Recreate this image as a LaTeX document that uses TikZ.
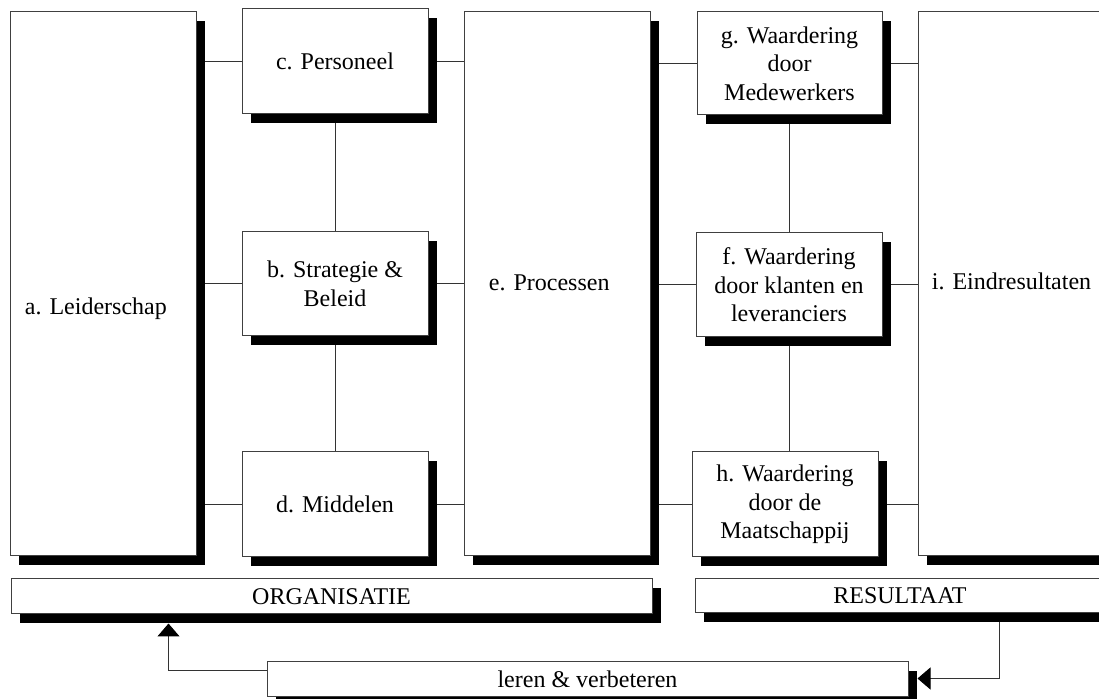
\documentclass[tikz,border=0pt]{standalone}
\usepackage{fontspec}
\setmainfont{Liberation Serif}
\usetikzlibrary{calc,shadows,backgrounds,arrows.meta}
\tikzset{
  box/.style={draw=black!75, line width=0.5pt, fill=white, inner sep=0pt, align=center,
    font=\fontsize{12pt}{14.3pt}\selectfont,
    drop shadow={shadow xshift=4.3pt, shadow yshift=-4.3pt, opacity=1, fill=black}},
  lbl/.style={font=\fontsize{12pt}{14.3pt}\selectfont, inner sep=0pt, anchor=base west},
  conn/.style={draw=black!80, line width=0.5pt},
  tip/.style={-{Triangle[width=11pt,length=6.5pt,black]}}
}
\begin{document}
\begin{tikzpicture}[x=0.5pt,y=-0.5pt]
\useasboundingbox (0,0) rectangle (1099,699);
\clip (0,0) rectangle (1099,699);
% boxes
\node[box, minimum width=93pt, minimum height=272pt] (a) at (103,284) {};
\node[box, minimum width=93pt, minimum height=52.5pt] (c) at (335,61.5) {c. Personeel};
\node[box, minimum width=93pt, minimum height=52pt] (b) at (335,284) {b. Strategie \&\\Beleid};
\node[box, minimum width=93pt, minimum height=52.5pt] (d) at (335,504.5) {d. Middelen};
\node[box, minimum width=93pt, minimum height=272pt] (e) at (557,284) {};
\node[box, minimum width=92.5pt, minimum height=51.5pt] (g) at (789.5,63.5) {g. Waardering\\door\\Medewerkers};
\node[box, minimum width=93pt, minimum height=52pt] (f) at (789,285) {f. Waardering\\door klanten en\\leveranciers};
\node[box, minimum width=93pt, minimum height=52.5pt] (h) at (785,504.5) {h. Waardering\\door de\\Maatschappij};
\node[box, minimum width=93pt, minimum height=272pt] (i) at (1011,284) {};
\node[box, minimum width=320.5pt, minimum height=17.5pt] (org) at (331.5,596.5) {ORGANISATIE};
\node[box, minimum width=205pt, minimum height=17pt] (res) at (900,596) {RESULTAAT};
\node[box, minimum width=320.5pt, minimum height=17.5pt] (leren) at (587.5,679.5) {leren \& verbeteren};
% labels of the tall boxes
\node[lbl] (at) at ($(a.west)+(15,31)$) {a. Leiderschap};
\node[lbl] (et) at ($(e.west)+(25,7)$) {e. Processen};
\node[lbl] (it) at ($(i.west)+(14,6)$) {i. Eindresultaten};
% connectors
\begin{scope}[on background layer]
\draw[conn] (c.west) -- (c.west -| a.east);
\draw[conn] (b.west) -- (b.west -| a.east);
\draw[conn] (d.west) -- (d.west -| a.east);
\draw[conn] (c.east) -- (c.east -| e.west);
\draw[conn] (b.east) -- (b.east -| e.west);
\draw[conn] (d.east) -- (d.east -| e.west);
\draw[conn] (g.west) -- (g.west -| e.east);
\draw[conn] (f.west) -- (f.west -| e.east);
\draw[conn] (h.west) -- (h.west -| e.east);
\draw[conn] (g.east) -- (g.east -| i.west);
\draw[conn] (f.east) -- (f.east -| i.west);
\draw[conn] (h.east) -- (h.east -| i.west);
\draw[conn] (c.south) -- (b.north);
\draw[conn] (b.south) -- (d.north);
\draw[conn] (g.south) -- (g.south |- f.north);
\draw[conn] (f.south) -- (f.south |- h.north);
\end{scope}
% feedback arrows
\draw[conn, tip] ($(leren.north west)+(0,9)$) -| ($(org.south west)+(158,9)$);
\draw[conn, tip] ($(res.south west)+(305,9)$) |- ($(leren.north east)+(9,17)$);
\end{tikzpicture}
\end{document}
